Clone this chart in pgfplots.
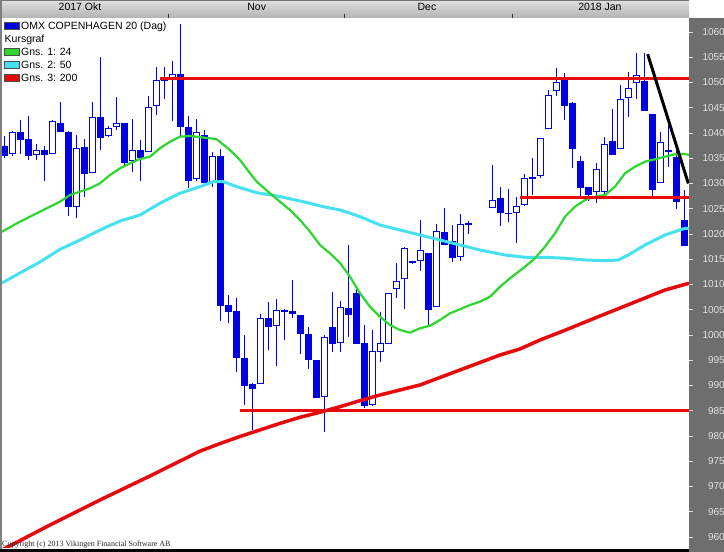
\documentclass[border=0pt]{standalone}
\usepackage{fontspec}
\setmainfont{Liberation Sans}
\newfontfamily\serifcopy{Liberation Serif}
\usepackage{pgfplots}
\pgfplotsset{compat=1.18}
\usepackage{pgfplotstable}
\definecolor{candle}{RGB}{0,0,225}
\definecolor{magreen}{RGB}{45,215,45}
\definecolor{macyan}{RGB}{70,225,240}
\definecolor{mared}{RGB}{230,10,10}
\definecolor{panel}{RGB}{110,110,110}
\definecolor{ticktext}{RGB}{225,225,225}

\pgfplotstableread{
i o h l c
0 1037.4 1039.4 1035.1 1035.5
2 1040.1 1042.5 1035.8 1038.7
3 1038.8 1043.3 1034.7 1035.4
5 1036.6 1037.5 1030.4 1035.6
7 1041.9 1046.2 1040.1 1040.1
8 1040.1 1040.3 1023.6 1025.4
10 1037.2 1038.8 1027.4 1031.8
12 1043.1 1055.1 1036.6 1039.0
15 1041.9 1041.9 1033.5 1034.1
17 1036.6 1038.6 1030.4 1035.1
22 1051.7 1061.6 1039.3 1041.1
23 1041.1 1043.4 1029.2 1030.5
25 1039.6 1040.6 1030.0 1030.0
27 1035.4 1036.8 1002.8 1005.8
28 1005.9 1007.9 1002.3 1004.6
29 1004.8 1007.3 992.7 995.4
30 995.5 1000.0 986.1 989.9
31 990.2 990.5 981.2 989.4
33 1003.3 1006.5 997.0 1001.6
35 1005.0 1005.1 999.0 1004.5
36 1004.8 1010.9 1003.4 1004.1
37 1003.9 1003.9 996.3 1000.1
38 1000.2 1001.5 993.3 995.0
39 995.1 995.1 987.5 987.5
41 1001.5 1008.6 996.6 998.3
43 1005.3 1017.9 999.7 1004.0
44 1008.4 1009.7 998.2 998.2
45 998.4 1002.0 985.5 986.0
53 1016.2 1016.2 1002.0 1005.0
55 1020.4 1025.1 1017.8 1017.8
56 1018.6 1021.8 1014.4 1015.2
62 1027.1 1029.4 1021.6 1024.2
63 1024.2 1028.9 1022.4 1023.9
66 1031.3 1035.0 1027.7 1030.8
70 1051.0 1051.8 1042.6 1045.3
71 1045.9 1046.1 1033.1 1036.8
72 1034.4 1035.5 1027.1 1029.2
73 1029.4 1029.4 1026.6 1027.7
76 1038.4 1044.7 1035.6 1035.6
80 1050.3 1055.8 1044.4 1044.4
81 1043.8 1043.8 1027.5 1028.8
83 1036.6 1041.6 1033.3 1036.2
84 1035.3 1036.5 1024.9 1026.4
85 1022.8 1028.7 1017.7 1017.7
}\down

\pgfplotstableread{
i o h l c
1 1035.8 1040.4 1035.4 1040.1
4 1035.6 1037.8 1034.7 1036.6
6 1035.8 1042.6 1035.8 1042.4
9 1025.4 1039.7 1023.1 1037.1
11 1032.0 1046.1 1032.0 1043.1
13 1039.5 1041.4 1039.3 1041.0
14 1041.1 1047.2 1040.6 1041.9
16 1034.5 1042.7 1032.2 1036.6
18 1036.2 1047.3 1036.2 1045.1
19 1045.3 1053.0 1043.6 1050.4
20 1050.2 1053.1 1046.7 1051.1
21 1050.5 1054.3 1042.3 1051.6
24 1030.8 1042.7 1030.4 1040.1
26 1030.2 1036.3 1029.4 1035.4
32 990.2 1004.1 990.2 1003.3
34 1001.8 1007.1 993.8 1005.0
40 987.7 1000.0 980.7 999.6
42 998.5 1006.8 996.6 1005.5
46 986.1 1000.9 986.0 996.9
47 996.7 1004.5 994.6 998.5
48 998.3 1008.4 998.3 1008.4
49 1009.2 1014.2 1007.3 1010.6
50 1011.0 1017.5 1005.1 1017.2
51 1014.3 1014.7 1014.1 1014.6
52 1014.7 1022.8 1012.7 1016.8
54 1005.6 1022.0 1005.6 1020.6
57 1015.4 1024.0 1014.7 1022.0
58 1021.8 1022.5 1020.0 1022.1
61 1025.2 1033.7 1025.1 1026.8
64 1024.1 1027.3 1018.2 1025.6
65 1025.8 1031.9 1025.6 1031.0
67 1031.4 1039.1 1031.0 1039.1
68 1040.7 1048.5 1040.7 1047.5
69 1048.3 1052.8 1047.4 1050.0
74 1028.4 1034.1 1026.1 1032.8
75 1028.4 1039.3 1027.4 1037.8
77 1036.8 1049.6 1036.8 1046.8
78 1047.0 1052.0 1043.1 1049.0
79 1049.8 1055.9 1046.7 1051.5
82 1030.0 1040.1 1030.0 1038.2
}\up

\pgfplotstableread{
x y
-0.25 1020.46
2.0 1022.44
4.5 1024.41
7.0 1026.39
8.25 1027.72
9.5 1028.38
10.75 1029.05
12.0 1030.04
13.25 1031.68
14.5 1033.01
15.75 1034.00
17.0 1034.85
18.25 1035.31
19.5 1036.97
20.75 1038.28
22.0 1039.27
23.25 1039.41
25.75 1038.95
26.59 1038.75
28.25 1036.63
29.5 1034.65
30.75 1032.02
31.59 1030.36
33.25 1028.06
34.5 1026.39
35.75 1024.75
37.0 1022.77
38.25 1020.46
39.5 1017.82
40.75 1016.18
42.0 1014.26
43.25 1011.55
44.5 1008.26
45.75 1005.60
47.0 1003.62
48.25 1001.98
49.5 1000.99
50.75 1000.46
52.0 1001.33
53.25 1001.84
54.5 1002.97
55.75 1004.29
57.0 1005.09
58.25 1005.94
59.5 1006.59
60.75 1007.58
62.0 1009.56
63.25 1011.23
65.125 1013.52
66.375 1015.19
67.625 1017.49
68.875 1020.14
70.125 1023.43
71.375 1025.41
72.625 1026.73
73.875 1027.39
75.125 1027.72
76.375 1029.37
77.625 1032.02
78.875 1033.33
80.125 1034.32
81.375 1034.79
82.625 1035.31
83.875 1035.78
85.125 1035.84
85.625 1035.65
}\maA

\pgfplotstableread{
x y
-0.25 1010.30
2.0 1012.28
4.5 1014.46
7.0 1016.97
9.5 1018.81
12.0 1020.79
14.5 1022.57
17.0 1023.76
19.5 1026.08
22.0 1028.06
24.5 1029.37
26.16 1030.36
27.41 1030.36
29.09 1029.37
31.59 1028.18
34.09 1027.52
37.41 1026.40
39.91 1025.41
42.0 1024.75
44.5 1023.43
47.0 1021.78
49.5 1020.79
52.0 1019.80
54.5 1018.81
57.0 1017.82
59.5 1016.83
62.625 1015.84
65.125 1015.39
67.625 1015.39
70.125 1015.19
72.625 1014.85
75.125 1014.71
76.79 1014.85
78.04 1015.84
80.125 1017.82
82.625 1019.80
85.125 1021.13
85.625 1021.13
}\maB

\pgfplotstableread{
x y
-0.5 957.23
5.75 962.38
12.0 967.33
18.25 972.08
24.5 977.00
27.0 978.50
29.5 979.90
32.0 981.20
34.5 982.50
37.0 983.70
39.5 984.70
42.0 985.80
44.5 987.00
47.0 988.12
49.5 989.11
52.0 990.10
57.0 993.07
62.0 996.04
64.5 997.23
67.0 999.01
69.5 1000.54
74.5 1003.76
79.5 1006.93
82.625 1008.91
85.625 1010.24
}\maC

\begin{document}
\begin{tikzpicture}[x=1pt,y=1pt]
\fill[white] (0,0) rectangle (724,552);
\useasboundingbox (0,0) rectangle (724,552);
\fill[panel] (689,0) rectangle (724,534);
\shade[top color=black!12, bottom color=black!30] (2,534) rectangle (689,552);
\draw[black!55, line width=1pt] (2,551.5) -- (689,551.5);

\begin{axis}[
  at={(2pt,4pt)}, anchor=south west,
  scale only axis, width=687pt, height=530pt,
  xmin=-0.25, xmax=85.625,
  ymin=957.82, ymax=1062.77,
  axis x line=none,
  axis y line*=right,
  axis line style={draw=none},
  xtick=\empty,
  ytick={960,965,...,1060},
  tick align=outside,
  major tick length=4pt,
  tick style={ticktext, line width=0.8pt},
  /pgf/number format/assume math mode=true,
  /pgf/number format/1000 sep={},
  yticklabel style={font=\fontsize{10}{12}\selectfont, text=ticktext, anchor=east, inner sep=0pt, xshift=32pt},
  clip=true,
  candlebar/.style 2 args={draw=none, mark=none, forget plot,
    error bars/.cd, y dir=plus, y explicit, error mark=none,
    error bar style={draw=#1, line width=#2}},
]
% wicks
\addplot[candlebar={candle}{1pt}]
  table[x=i, y=l, y error expr={\thisrow{h}-\thisrow{l}}] {\down};
\addplot[candlebar={candle}{1pt}]
  table[x=i, y=l, y error expr={\thisrow{h}-\thisrow{l}}] {\up};
% bodies down (filled)
\addplot[candlebar={candle}{7pt}]
  table[x=i, y=c, y error expr={\thisrow{o}-\thisrow{c}}] {\down};
% bodies up (hollow)
\addplot[candlebar={candle}{7pt}]
  table[x=i, y=o, y error expr={\thisrow{c}-\thisrow{o}}] {\up};
\addplot[candlebar={white}{5pt}]
  table[x=i, y expr={\thisrow{o}+0.2}, y error expr={max(\thisrow{c}-\thisrow{o}-0.4,0)}] {\up};
% moving averages
\addplot[mared, line width=3.5pt, line join=round] table[x=x,y=y] {\maC};
\addplot[macyan, line width=3pt, line join=round] table[x=x,y=y] {\maB};
\addplot[magreen, line width=2.2pt, line join=round] table[x=x,y=y] {\maA};
% support / resistance
\addplot[mared, line width=3pt] coordinates {(19.5,1050.8) (86,1050.8)};
\addplot[mared, line width=3pt] coordinates {(64.5,1027.3) (86,1027.3)};
\addplot[mared, line width=3pt] coordinates {(29.5,985.1) (86,985.1)};
% trend line
\addplot[black, line width=3pt] coordinates {(80.46,1055.6) (85.54,1030.0)};
\end{axis}

\fill[black!50] (0,0) rectangle (2,552);
\fill[black] (0,0) rectangle (689,3);

% top band month labels and separators
\foreach \xx in {168,344,512} {\draw[black!80, line width=1pt] (\xx,534) -- (\xx,538);}
\node[anchor=base, inner sep=0pt, font=\fontsize{10.5}{12}\selectfont] at (80,541) {2017 Okt};
\node[anchor=base, inner sep=0pt, font=\fontsize{10.5}{12}\selectfont] at (256.7,541) {Nov};
\node[anchor=base, inner sep=0pt, font=\fontsize{10.5}{12}\selectfont] at (427,541) {Dec};
\node[anchor=base, inner sep=0pt, font=\fontsize{10.5}{12}\selectfont] at (600,541) {2018 Jan};

% legend
\begin{scope}[font=\fontsize{10.5}{12}\selectfont]
\filldraw[fill=candle, draw=black!70, line width=0.5pt] (4,522.7) rectangle (19,530);
\node[anchor=base west, inner sep=0pt] at (21,522) {OMX COPENHAGEN 20 (Dag)};
\node[anchor=base west, inner sep=0pt] at (4.5,509) {Kursgraf};
\filldraw[fill=magreen, draw=black!70, line width=0.5pt] (4,496.8) rectangle (19,504);
\node[anchor=base west, inner sep=0pt] at (21,496.1) {Gns. 1: 24};
\filldraw[fill=macyan, draw=black!70, line width=0.5pt] (4,483.9) rectangle (19,491.1);
\node[anchor=base west, inner sep=0pt] at (21,483.2) {Gns. 2: 50};
\filldraw[fill=mared, draw=black!70, line width=0.5pt] (4,471) rectangle (19,478.2);
\node[anchor=base west, inner sep=0pt] at (21,470.3) {Gns. 3: 200};
\end{scope}

\node[anchor=base west, inner sep=0pt, font=\serifcopy\fontsize{8}{9}\selectfont, text=black!85] at (2,5.5) {Copyright (c) 2013 Vikingen Financial Software AB};
\end{tikzpicture}
\end{document}
